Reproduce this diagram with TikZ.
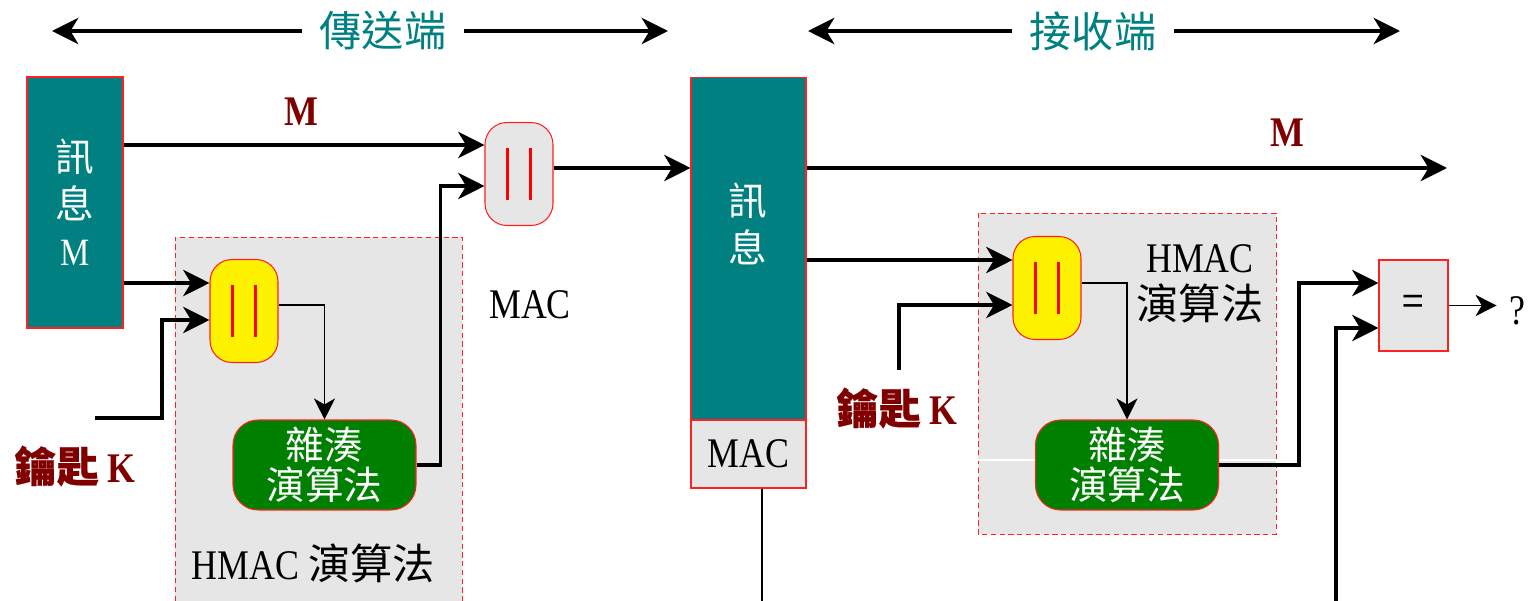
\documentclass[tikz,border=0pt]{standalone}
\usepackage{fontspec}
\setmainfont{Liberation Serif}[FakeStretch=0.85]
\newfontfamily\cjk{Noto Sans CJK TC}
\newfontfamily\cjkbold{Noto Sans CJK TC}[FakeBold=0.6]
\usetikzlibrary{arrows.meta, positioning}
\definecolor{macTeal}{HTML}{008080}
\definecolor{macGreen}{HTML}{008000}
\definecolor{macRed}{HTML}{800000}
\definecolor{macGray}{HTML}{E6E6E6}
\definecolor{macBorder}{HTML}{FF2020}

\newcommand{\catbars}[1]{%
	\draw[red, line width=1.2pt] ([xshift=-0.23cm,yshift=-0.52cm]#1.center) -- ([xshift=-0.23cm,yshift=0.52cm]#1.center);
	\draw[red, line width=1.2pt] ([xshift=0.23cm,yshift=-0.52cm]#1.center) -- ([xshift=0.23cm,yshift=0.52cm]#1.center);}

\begin{document}
\begin{tikzpicture}[
		x=0.02cm, y=-0.02cm,
		every node/.style={inner sep=0pt},
		tealbox/.style={draw=macBorder, line width=0.6pt, fill=macTeal, text=white, align=center, font=\fontsize{22}{26.7}\selectfont\cjk},
		catbox/.style={draw=macBorder, line width=0.6pt, rounded corners=0.44cm, minimum width=1.36cm, minimum height=2.06cm},
		hashbox/.style={draw=macBorder, line width=0.6pt, fill=macGreen, rounded corners=0.5cm, minimum width=3.66cm, minimum height=1.8cm, text=white, align=center, font=\fontsize{22}{22.7}\selectfont\cjk},
		region/.style={fill=macGray},
		regionline/.style={draw=macBorder, line width=0.5pt, dash pattern=on 3pt off 2pt},
		headtext/.style={text=macTeal, inner xsep=0.34cm, font=\fontsize{24}{28}\selectfont\cjk},
		redlabel/.style={text=macRed, font=\fontsize{24}{28}\selectfont\bfseries},
		plain/.style={font=\fontsize{24}{26.6}\selectfont},
		arrow/.style={-{Stealth[length=15pt,width=15pt,inset=4.5pt]}, line width=2.1pt},
		thinarrow/.style={-{Stealth[length=12pt,width=12pt,inset=3.5pt]}, line width=0.7pt}
	]
	\useasboundingbox (0,0) rectangle (1529,601);

	% sender / receiver headings
	\node[headtext] (send) at (383,31) {傳送端};
	\coordinate (sendL) at (52,31);
	\coordinate (sendR) at (668,31);
	\draw[arrow] (send.west) -- (sendL);
	\draw[arrow] (send.east) -- (sendR);
	\node[headtext] (recv) at (1093,31) {接收端};
	\coordinate (recvL) at (808,31);
	\coordinate (recvR) at (1400,31);
	\draw[arrow] (recv.west) -- (recvL);
	\draw[arrow] (recv.east) -- (recvR);

	% sender side
	\fill[region] (175,237) rectangle (462,601);
	\draw[regionline] (175,601) -- (175,237) -- (462,237) -- (462,601);
	\node[tealbox, minimum width=1.92cm, minimum height=5.02cm] (msgA) at (75,202.5) {訊\\息\\{\rmfamily M}};
	\node[redlabel] (mA) at (301,112) {M};
	\node[catbox, fill=macGray] (catA) at (519,174) {};
	\catbars{catA}
	\node[catbox, fill=yellow] (catB) at (244,311) {};
	\catbars{catB}
	\node[hashbox] (hashA) at (324.5,465) {雜湊\\演算法};
	\node[plain] (macA) at (530,305) {MAC};
	\node[plain] (hmacA) at (313,563) {HMAC {\cjk 演算法}};
	\node[redlabel] (keyA) at (75,466) {{\cjkbold 鑰匙} K};
	\coordinate (keyAin) at (95,418);

	\draw[arrow] (msgA.east |- 0,145) -- (catA.west |- 0,145);
	\draw[arrow] (msgA.east |- 0,283) -- (catB.west |- 0,283);
	\draw[arrow] (keyAin) -- ++(67,0) |- (catB.west |- 0,320);
	\draw[thinarrow] (catB.east |- 0,305) -| (hashA.north);
	\draw[arrow] (hashA.east) -- ++(24,0) |- (catA.west |- 0,186);

	% receiver side
	\node[tealbox, minimum width=2.3cm, minimum height=6.86cm] (msgB) at (748.5,248.5) {};
	\node[text=white, align=center, font=\fontsize{22}{26.7}\selectfont\cjk] (msgBtxt) at (748,224) {訊\\息};
	\node[plain, draw=macBorder, line width=0.6pt, fill=macGray, minimum width=2.3cm, minimum height=1.36cm] (macB) at (748.5,454) {MAC};
	\coordinate (macOut) at (762,601);
	\draw[line width=1.4pt] (macB.south -| macOut) -- (macOut);
	\draw[arrow] (catA.east |- 0,168) -- (msgB.west |- 0,168);
	\coordinate (outM) at (1447,168);
	\draw[arrow] (msgB.east |- 0,168) -- (outM);
	\node[redlabel] (mB) at (1287,133) {M};

	\fill[region] (978,213) rectangle (1276,534);
	\draw[regionline] (978,213) rectangle (1276,534);
	\draw[white, line width=0.6pt] (978,460) -- (1276,460);
	\node[catbox, fill=yellow] (catC) at (1047,288) {};
	\catbars{catC}
	\node[hashbox] (hashB) at (1127,465) {雜湊\\演算法};
	\node[plain, align=center] (hmacB) at (1200,284) {HMAC\\{\cjk 演算法}};
	\node[redlabel] (keyB) at (897,408) {{\cjkbold 鑰匙} K};
	\coordinate (keyBin) at (899,370);
	\node[draw=macBorder, line width=0.6pt, fill=macGray, minimum width=1.38cm, minimum height=1.82cm, font=\fontsize{22}{26}\selectfont\cjk] (cmp) at (1413.5,305.5) {=};
	\node[plain] (quest) at (1517,311) {?};
	\coordinate (cmpIn) at (1336,601);

	\draw[arrow] (msgB.east |- 0,260) -- (catC.west |- 0,260);
	\draw[arrow] (keyBin) |- (catC.west |- 0,305);
	\draw[thinarrow] (catC.east |- 0,283) -| (hashB.north);
	\draw[arrow] (hashB.east) -- ++(80,0) |- (cmp.west |- 0,283);
	\draw[arrow] (cmpIn) |- (cmp.west |- 0,328);
	\draw[thinarrow, shorten >=0.24cm] (cmp.east) -- (cmp.east -| quest.west);
\end{tikzpicture}
\end{document}
